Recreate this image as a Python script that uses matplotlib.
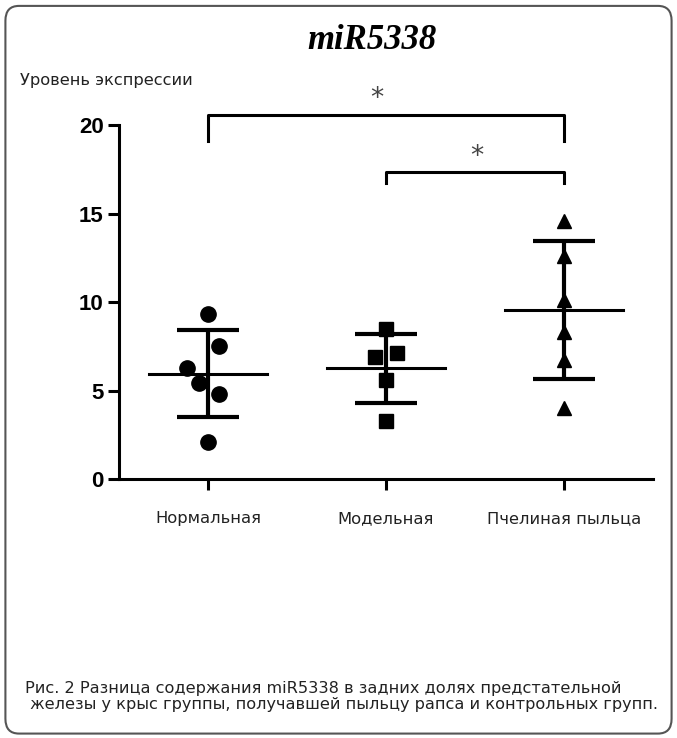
import numpy as np
import matplotlib.pyplot as plt
from matplotlib.patches import FancyBboxPatch

# group names and individual values
groups = ['Нормальная', 'Модельная', 'Пчелиная пыльца']
normal_x = [0.0, 0.06, -0.12, -0.05, 0.06, 0.0]
normal_y = [9.3, 7.5, 6.3, 5.4, 4.8, 2.1]
model_x = [0.0, -0.06, 0.06, 0.0, 0.0]
model_y = [8.5, 6.9, 7.1, 5.6, 3.3]
pollen_x = [0.0, 0.0, 0.0, 0.0, 0.0, 0.0]
pollen_y = [14.6, 12.6, 10.1, 8.3, 6.7, 4.0]
means = [5.95, 6.25, 9.55]
sds = [2.45, 1.95, 3.9]
markers = ['o', 's', '^']

fig = plt.figure(figsize=(6.77, 7.38), dpi=100)

# rounded frame around the whole picture
frame = FancyBboxPatch((0.008, 0.006), 0.984, 0.986,
                       boxstyle='round,pad=0,rounding_size=0.02',
                       transform=fig.transFigure, fill=False,
                       edgecolor='#555555', linewidth=1.5)
fig.patches.append(frame)

ax = fig.add_axes([0.1758, 0.3509, 0.7887, 0.4797])

points = [(normal_x, normal_y), (model_x, model_y), (pollen_x, pollen_y)]
for i, (dx, ys) in enumerate(points):
    xs = [i + d for d in dx]
    ax.plot(xs, ys, linestyle='none', marker=markers[i], color='black',
            markersize=11 if i == 0 else 10, zorder=3)
    # mean line
    ax.plot([i - 0.33, i + 0.33], [means[i], means[i]], color='black', lw=2.2, zorder=4)
    # SD bar
    ax.errorbar(i, means[i], yerr=sds[i], fmt='none', ecolor='black',
                elinewidth=3, capsize=22, capthick=3, zorder=4)

ax.set_xlim(-0.5, 2.5)
ax.set_ylim(0, 20)
ax.set_yticks([0, 5, 10, 15, 20])
ax.set_xticks([0, 1, 2])
ax.set_xticklabels(groups, fontsize=11.8, color='#222222')
for lbl in ax.get_yticklabels():
    lbl.set_fontfamily('Liberation Sans')
    lbl.set_fontweight('bold')
    lbl.set_fontsize(16)
ax.tick_params(axis='y', length=8, width=2.2, pad=3)
ax.tick_params(axis='x', length=8, width=2.2, pad=15)
ax.spines['top'].set_visible(False)
ax.spines['right'].set_visible(False)
ax.spines['left'].set_linewidth(2.2)
ax.spines['bottom'].set_linewidth(2.2)

# significance brackets
ax.plot([0, 0, 2, 2], [19.1, 20.55, 20.55, 19.1], color='black', lw=2.2, clip_on=False)
ax.text(0.95, 21.45, '*', ha='center', va='center', fontsize=19, color='#444444')
ax.plot([1, 1, 2, 2], [16.7, 17.35, 17.35, 16.7], color='black', lw=2.2, clip_on=False)
ax.text(1.51, 18.2, '*', ha='center', va='center', fontsize=19, color='#444444')

fig.text(0.55, 0.945, 'miR5338', ha='center', va='center', fontsize=25,
         fontfamily='Liberation Serif', fontweight='bold', fontstyle='italic')
fig.text(0.03, 0.891, 'Уровень экспрессии', ha='left', va='center', fontsize=11.7,
         color='#222222')

fig.text(0.037, 0.056, 'Рис. 2 Разница содержания miR5338 в задних долях предстательной\n'
         ' железы у крыс группы, получавшей пыльцу рапса и контрольных групп.',
         ha='left', va='center', fontsize=11.6, color='#222222', linespacing=1.12)

fig.savefig('out.png', dpi=100)
